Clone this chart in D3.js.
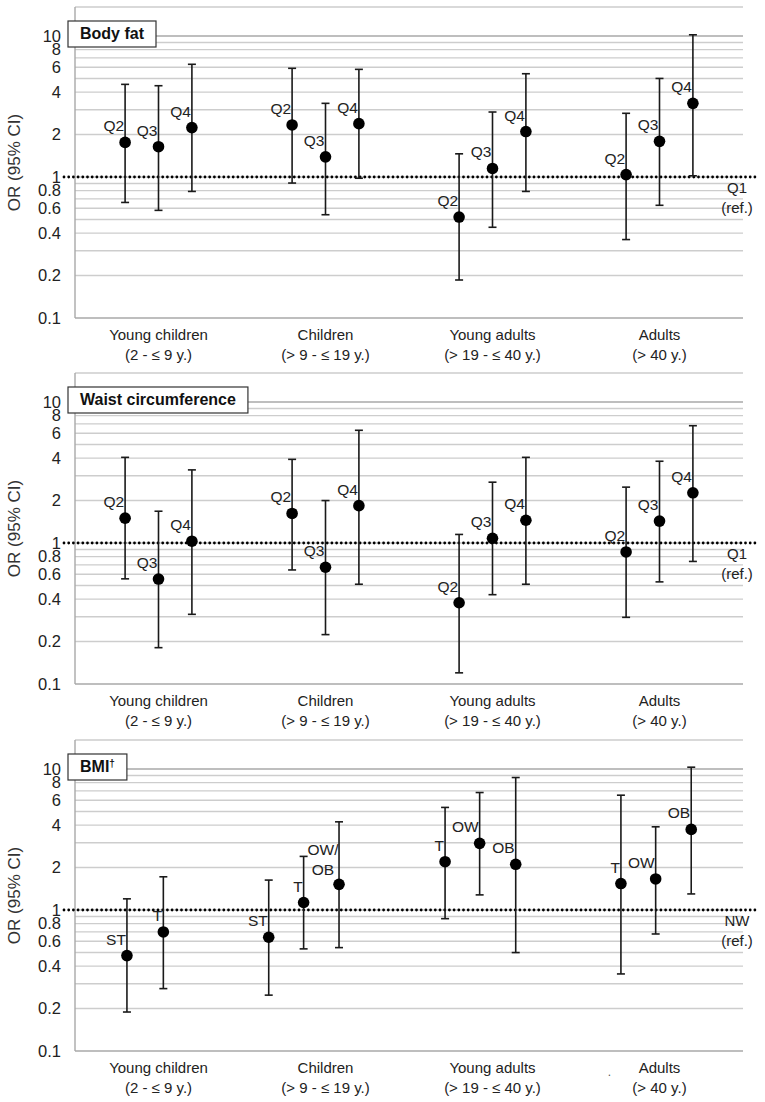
<!DOCTYPE html>
<html>
<head>
<meta charset="utf-8">
<script src="https://cdn.jsdelivr.net/npm/d3@7"></script>
<style>
  html, body { margin: 0; padding: 0; background: #fff; }
  svg { display: block; font-family: "Liberation Sans", Arial, sans-serif; }
</style>
</head>
<body>
<svg id="chart" width="765" height="1102"></svg>
<script>
// ---------- DATA ----------
const categories = ["Young children", "Children", "Young adults", "Adults"];
const ageRanges = ["(2 - \u2264 9 y.)", "(> 9 - \u2264 19 y.)", "(> 19 - \u2264 40 y.)", "(> 40 y.)"];
const yTicks = [10, 8, 6, 4, 2, 1, 0.8, 0.6, 0.4, 0.2, 0.1];
const gridValues = [0.1,0.2,0.3,0.4,0.5,0.6,0.7,0.8,0.9,1,2,3,4,5,6,7,8,9,10];

const quartiles = ["Q2", "Q3", "Q4"];

// Body fat (per category: Q2, Q3, Q4)
const bodyFatOR   = [1.76, 1.64, 2.24,  2.34, 1.39, 2.39,  0.52, 1.15, 2.10,  1.04, 1.79, 3.33];
const bodyFatLow  = [0.66, 0.58, 0.79,  0.906, 0.54, 0.98, 0.186, 0.44, 0.79, 0.36, 0.63, 1.02];
const bodyFatHigh = [4.54, 4.44, 6.30,  5.90, 3.33, 5.80,  1.46, 2.89, 5.40,  2.83, 5.00, 10.2];

// Waist circumference (per category: Q2, Q3, Q4)
const waistOR   = [1.50, 0.555, 1.03,  1.62, 0.673, 1.84,  0.377, 1.08, 1.45,  0.864, 1.43, 2.27];
const waistLow  = [0.557, 0.181, 0.312, 0.644, 0.224, 0.51, 0.12, 0.43, 0.51,  0.297, 0.53, 0.74];
const waistHigh = [4.05, 1.68, 3.30,  3.92, 2.00, 6.30,  1.15, 2.70, 4.05,  2.49, 3.80, 6.79];

// BMI (x in category units)
const bmiCategory = [0, 0, 1, 1, 1, 2, 2, 2, 3, 3, 3];
const bmiX      = [0.311, 0.529, 1.160, 1.369, 1.581, 2.216, 2.423, 2.639, 3.269, 3.477, 3.690];
const bmiLabels = ["ST", "T", "ST", "T", "OW/OB", "T", "OW", "OB", "T", "OW", "OB"];
const bmiOR     = [0.475, 0.699, 0.641, 1.13, 1.52, 2.20, 2.97, 2.11, 1.54, 1.66, 3.73];
const bmiLow    = [0.189, 0.277, 0.249, 0.53, 0.541, 0.868, 1.28, 0.499, 0.352, 0.676, 1.30];
const bmiHigh   = [1.20, 1.72, 1.63, 2.40, 4.22, 5.34, 6.81, 8.70, 6.52, 3.89, 10.3];

const panelTitles = ["Body fat", "Waist circumference", "BMI"];
const refLabels = [["Q1", "(ref.)"], ["Q1", "(ref.)"], ["NW", "(ref.)"]];

// ---------- BUILD ROWS ----------
const sub = d3.scalePoint().domain(quartiles).range([0.3, 0.7]);
function quartileRows(or, lo, hi) {
  return or.map((v, i) => {
    const c = Math.floor(i / 3), q = quartiles[i % 3];
    return { x: c + sub(q), or: v, lo: lo[i], hi: hi[i], label: q };
  });
}
const panels = [
  quartileRows(bodyFatOR, bodyFatLow, bodyFatHigh),
  quartileRows(waistOR, waistLow, waistHigh),
  bmiOR.map((v, i) => ({ x: bmiX[i], or: v, lo: bmiLow[i], hi: bmiHigh[i], label: bmiLabels[i] }))
];

// ---------- LAYOUT ----------
const svg = d3.select("#chart");
const left = 75, right = 743;
const panelY10 = [36, 402, 769];   // pixel y of OR = 10 in each panel
const decade = 141;
const x = d3.scaleLinear().domain([0, 4]).range([left, right]);

panels.forEach((rows, p) => {
  const y10 = panelY10[p];
  const y = d3.scaleLog().domain([0.1, 10]).range([y10 + 2 * decade, y10]);
  const topY = y10 - 29, botY = y(0.1);
  const g = svg.append("g");

  // gridlines
  g.append("g")
    .selectAll("line").data(gridValues).join("line")
    .attr("x1", left).attr("x2", right)
    .attr("y1", d => y(d)).attr("y2", d => y(d))
    .attr("stroke", d => (d === 10 || d === 0.1) ? "#a8a8a8" : "#cdcdcd")
    .attr("stroke-width", 1.4);
  // top border
  g.append("line").attr("x1", left).attr("x2", right).attr("y1", topY).attr("y2", topY)
    .attr("stroke", "#cdcdcd").attr("stroke-width", 1.4);
  // left axis line
  g.append("line").attr("x1", left).attr("x2", left).attr("y1", topY).attr("y2", botY)
    .attr("stroke", "#a8a8a8").attr("stroke-width", 1.4);

  // y axis tick labels
  const ax = g.append("g").attr("transform", `translate(${left},0)`)
    .call(d3.axisLeft(y).tickValues(yTicks).tickSize(0).tickPadding(14).tickFormat(d => String(d)));
  ax.select(".domain").remove();
  ax.selectAll("text").attr("font-size", 16.5).attr("fill", "#222")
    .attr("font-family", "'Liberation Sans', Arial, sans-serif");

  // y axis title
  g.append("text")
    .attr("transform", `translate(20,${(topY + botY) / 2}) rotate(-90)`)
    .attr("text-anchor", "middle").attr("font-size", 17).attr("fill", "#333")
    .text("OR (95% CI)");

  // reference dotted line
  g.append("line").attr("x1", 64).attr("x2", 756).attr("y1", y(1)).attr("y2", y(1))
    .attr("stroke", "#000").attr("stroke-width", 2.8)
    .attr("stroke-dasharray", "0 4.7").attr("stroke-linecap", "round");

  // reference label
  const rl = g.append("text").attr("text-anchor", "middle").attr("font-size", 15).attr("fill", "#222");
  refLabels[p].forEach((t, i) => {
    rl.append("tspan").attr("x", 737).attr("y", y(1) + 16 + i * 20).text(t);
  });

  // error bars
  const eb = g.append("g").attr("stroke", "#1a1a1a").attr("stroke-width", 1.6);
  eb.selectAll("line.v").data(rows).join("line").attr("class", "v")
    .attr("x1", d => x(d.x)).attr("x2", d => x(d.x))
    .attr("y1", d => y(d.lo)).attr("y2", d => y(d.hi));
  eb.selectAll("line.hi").data(rows).join("line").attr("class", "hi")
    .attr("x1", d => x(d.x) - 4).attr("x2", d => x(d.x) + 4)
    .attr("y1", d => y(d.hi)).attr("y2", d => y(d.hi));
  eb.selectAll("line.lo").data(rows).join("line").attr("class", "lo")
    .attr("x1", d => x(d.x) - 4).attr("x2", d => x(d.x) + 4)
    .attr("y1", d => y(d.lo)).attr("y2", d => y(d.lo));

  // points
  g.append("g").selectAll("circle").data(rows).join("circle")
    .attr("cx", d => x(d.x)).attr("cy", d => y(d.or)).attr("r", 5.8).attr("fill", "#000");

  // point labels
  g.append("g").selectAll("text").data(rows).join("text")
    .attr("font-size", 15.5).attr("fill", "#222")
    .each(function (d) {
      const t = d3.select(this);
      const px = x(d.x), py = y(d.or);
      if (d.label.includes("/")) {
        const parts = [d.label.slice(0, d.label.indexOf("/") + 1), d.label.slice(d.label.indexOf("/") + 1)];
        t.attr("text-anchor", "middle");
        parts.forEach((s, i) => t.append("tspan").attr("x", px - 16).attr("y", py - 29 + i * 20).text(s));
      } else {
        t.attr("text-anchor", "end").attr("x", px - 1).attr("y", py - 11).text(d.label);
      }
    });

  // category labels
  const cl = g.append("g").attr("font-size", 15).attr("fill", "#222").attr("text-anchor", "middle");
  categories.forEach((c, i) => {
    const t = cl.append("text");
    t.append("tspan").attr("x", x(i + 0.5)).attr("y", botY + 22).text(c);
    t.append("tspan").attr("x", x(i + 0.5)).attr("y", botY + 42).text(ageRanges[i]);
  });

  // title box
  const tb = g.append("g");
  const rect = tb.append("rect").attr("x", 68).attr("y", y10 - 15).attr("height", 26)
    .attr("fill", "#fff").attr("stroke", "#333").attr("stroke-width", 1.2);
  const tt = tb.append("text").attr("x", 80).attr("y", y10 + 3)
    .attr("font-size", 16).attr("font-weight", "bold").attr("fill", "#111");
  tt.append("tspan").text(panelTitles[p]);
  if (p === 2) tt.append("tspan").attr("font-size", 10).attr("dy", -5).text("\u2020");
  const w = tt.node().getComputedTextLength();
  rect.attr("width", w + 24);

  if (p === 2) {
    g.append("text").attr("x", x(3.2)).attr("y", botY + 25).attr("font-size", 12)
      .attr("fill", "#555").attr("text-anchor", "middle").text(".");
  }
});
</script>
</body>
</html>
